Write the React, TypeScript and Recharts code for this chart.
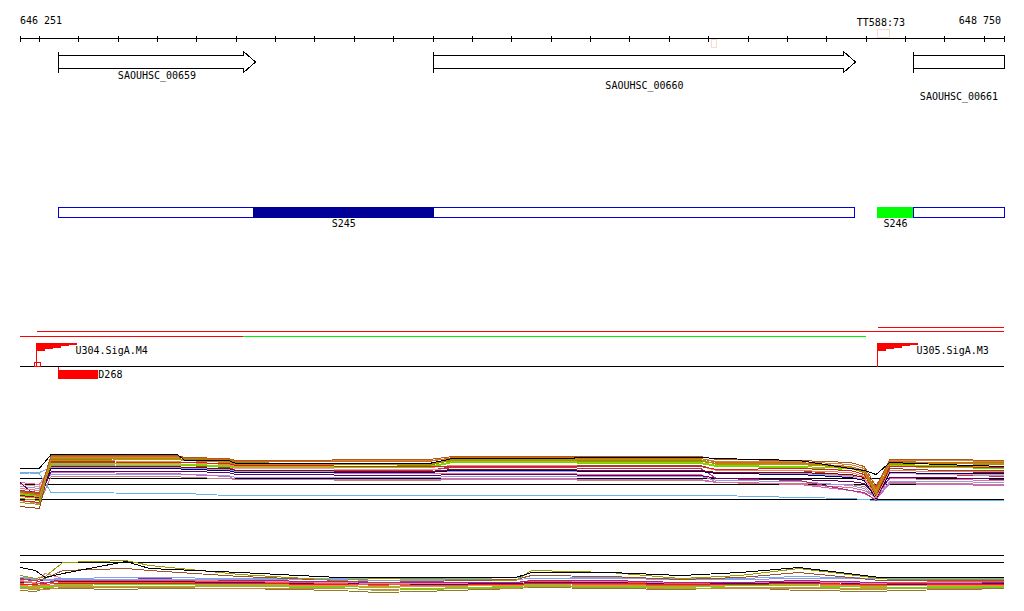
import React from "react";
import { ComposedChart, Line, XAxis, YAxis, ReferenceLine, ReferenceArea, ReferenceDot } from "recharts";

// genome window shown
const VIEW_START = 646251;
const VIEW_END = 648750;

const rulerTicks = [
  646251, 646300, 646400, 646500, 646600, 646700, 646800, 646900, 647000, 647100, 647200, 647300, 647400,
  647500, 647600, 647700, 647800, 647900, 648000, 648100, 648200, 648300, 648400, 648500, 648600, 648700, 648750,
];

const genes = [
  { name: "SAOUHSC_00659", start: 646350, end: 646848 },
  { name: "SAOUHSC_00660", start: 647302, end: 648372 },
  { name: "SAOUHSC_00661", start: 648519, end: 648750 },
];

const segmentSpans = [
  { start: 646350, end: 648372 },
  { start: 648519, end: 648750 },
];

const segments = [
  { name: "S245", start: 646845, end: 647302, color: "#000099" },
  { name: "S246", start: 648430, end: 648519, color: "#00ff00" },
];

const transcripts = [
  { start: 648430, end: 648750, color: "#ff0000", lane: 0 },
  { start: 646294, end: 648750, color: "#ff0000", lane: 1 },
  { start: 646251, end: 646817, color: "#ff0000", lane: 2 },
  { start: 646817, end: 648400, color: "#00ee00", lane: 2 },
];

const promoters = [
  { name: "U304.SigA.M4", pos: 646294 },
  { name: "U305.SigA.M3", pos: 648430 },
];
const tssMarks = [646294];

const deletions = [{ name: "D268", start: 646350, end: 646450 }];

const terminators = [{ name: "TT588:73", start: 648430, end: 648460 }];
const faintMarks = [{ start: 648006, end: 648019 }];

// expression panel 1 (log2 signal)
const p1Pos = [
  646251, 646300, 646330, 646650, 646670, 646780, 646800, 647290, 647350, 647980, 648020, 648230, 648360, 648395,
  648425, 648460, 648590, 648750,
];
const p1Black = [9.4, 9.4, 12.2, 12.2, 11, 11, 10.4, 10.4, 11.4, 11.6, 11.4, 11, 9.4, 9, 8.2, 10.6, 10.2, 9.8];
const p1Sky = [8.6, 8.4, 4.6, 4.4, 4.4, 4, 4, 4, 4, 4, 4, 3.6, 3.4, 3.2, 3, 3, 3, 3];
const p1Brown = [1.8, 1.4, 10.6, 10.4, 10, 9.6, 9, 9, 9.8, 10, 9, 9, 8, 7, 3.8, 9.4, 9, 9];
const p1Orange = [4.6, 4.2, 11.8, 11.8, 11.4, 11.2, 10.8, 10.8, 11.6, 11.4, 10.6, 10.6, 9.8, 9, 5.4, 10.8, 10.6, 10.6];
const p1Olive = [3.4, 3, 11.2, 11.4, 11.2, 11, 10.6, 10, 11.2, 11, 10.4, 10.4, 9.4, 8.6, 4.2, 10.6, 10.4, 10.2];
const p1Magenta = [5, 4.6, 10.6, 10.4, 10.2, 9.8, 9, 9, 9.6, 9.4, 7.4, 7, 5, 4.6, 3, 8.6, 8.2, 7.8];
const p1Green = [4.2, 3.8, 10.2, 10, 10, 9.8, 9.6, 9.6, 10.6, 10.4, 9.8, 9.6, 9, 8.2, 4.6, 9.8, 9.6, 9.4];
const p1Salmon = [5.4, 5, 11, 10.8, 10.6, 10.2, 9.8, 9.6, 10, 9.8, 9, 9, 8.6, 7.8, 3.6, 9, 8.8, 8.8];
const p1Plum = [6.6, 3.4, 8.8, 8.8, 8.8, 8.6, 8.2, 8, 8.2, 8, 7.4, 7.2, 6.8, 6.4, 4, 7.6, 7.6, 7.2];
const p1Lavender = [5.8, 5.4, 8.2, 8.2, 8.2, 8, 7.6, 7.6, 7.8, 7.8, 7, 6.8, 6, 5.4, 3.4, 6.8, 6.8, 6.6];
const p1Pink = [6.6, 6.2, 10, 9.8, 9.6, 9.2, 8.6, 8.4, 8.4, 8.2, 6.6, 6.2, 5.6, 5, 3.6, 7.4, 7.2, 7];
const p1Red = [3, 2.6, 10.8, 10.6, 10.6, 10.4, 10, 9.8, 9.8, 9.8, 9.2, 9.4, 9, 8.2, 4.2, 9.8, 9.8, 9.6];
const p1Peru = [3.8, 3.4, 11.6, 11.6, 11.6, 11.4, 11, 11, 11.4, 11.4, 10.8, 10.8, 10.2, 9.4, 5, 11, 11, 10.8];
const p1Maroon = [4, 3.6, 9.8, 9.8, 9.6, 9.4, 9, 8.8, 9.2, 9, 8.6, 8.6, 8.2, 7.6, 4, 9, 8.8, 8.6];
const p1Gold = [4.6, 4, 11.4, 11.4, 11, 10.6, 10.2, 10.2, 11, 10.8, 10.4, 10.4, 9.8, 9, 4.6, 10.4, 10.4, 10.2];
const p1Orchid = [5, 4.6, 8.6, 8.4, 8.2, 7.8, 7.2, 7.2, 7.4, 7.2, 6.6, 6.2, 5, 4.4, 3.2, 6.4, 6.2, 6];
const p1Navy = [4.2, 3.8, 9.4, 9.4, 9.2, 9, 8.6, 8.6, 9, 8.8, 8.4, 8.2, 7.6, 7, 3.4, 8.6, 8.4, 8.4];
const p1Rose = [6.2, 5.8, 10.4, 10.2, 10, 9.8, 9.4, 9.2, 9, 9, 8.4, 8.2, 7.8, 7.2, 3.8, 8.4, 8.2, 8.2];
const p1Lime = [4.4, 4, 10.4, 10.4, 10.2, 10, 9.6, 9.8, 10.8, 10.6, 10, 9.8, 9.4, 8.6, 4.4, 10, 10, 9.8];
const p1Rust = [4.8, 4.4, 12, 12, 11.6, 11.4, 11, 11.2, 11.8, 11.8, 11.2, 11, 10.6, 9.8, 5.8, 11.2, 11.2, 11];
const p1Rosy = [3, 2.4, 7.8, 7.8, 7.6, 7.4, 7.2, 7, 7.2, 7, 6.6, 6.4, 6.2, 5.8, 3.6, 6.6, 6.4, 6.2];
const p1Steel = [8.4, 8.6, 9.6, 9.6, 9.4, 9.2, 8.8, 8.8, 8.8, 8.8, 8.6, 8.4, 8, 7.6, 4.6, 8.4, 8.2, 8];
const p1Khaki = [2.6, 2.2, 11, 11.2, 11, 10.8, 10.4, 10.4, 11.2, 11.2, 10.2, 10.2, 9.6, 8.8, 4.4, 10.2, 10.4, 10.4];
const p1Refs = [7.4, 6.2, 3.2];

// expression panel 2
const p2Pos = [
  646251, 646290, 646315, 646360, 646520, 646580, 646810, 647060, 647160, 647270, 647510, 647550, 647750, 647930,
  648080, 648230, 648435, 648470, 648640, 648750,
];
const p2Black = [15.2, 14, 11.2, 12.8, 17.6, 14.8, 13.2, 11.2, 11.2, 11.2, 11.2, 13.2, 13.2, 12, 13.2, 15.2, 11.2, 11.2, 11.2, 11.2];
const p2Olive = [12, 10.8, 11.6, 17.2, 18, 16, 12.4, 10, 10.8, 10.8, 10, 14, 13.2, 10.8, 12, 14.8, 10.8, 10.4, 10.4, 10.4];
const p2Sky = [11.2, 10.8, 10, 10.4, 10.4, 10.4, 10.4, 10.8, 10.8, 10.4, 11.2, 10.8, 11.2, 10.8, 10.8, 11.6, 10.8, 10.8, 10.8, 10.8];
const p2Orange = [8.8, 8, 8.4, 9.2, 9.2, 9.2, 8.8, 8.4, 8.4, 8, 8.4, 8.8, 8.4, 8, 8.4, 8.8, 8, 8.4, 8.4, 8.8];
const p2Magenta = [10.8, 10, 8.8, 10.8, 11.2, 10.8, 10, 9.6, 9.2, 9.2, 9.2, 10, 10, 9.2, 9.2, 10, 9.2, 8.8, 8.8, 9.2];
const p2Green = [7.6, 7.2, 7.6, 8, 8.4, 8.4, 8, 7.6, 7.2, 6.8, 7.6, 8, 7.6, 7.2, 8, 8, 7.2, 7.2, 7.6, 7.6];
const p2Umber = [6, 5.6, 6.8, 6.8, 6.4, 6.8, 6.8, 6, 5.2, 5.6, 6.8, 7.2, 6.8, 6.4, 7.2, 6, 5.6, 6, 6.4, 6.8];
const p2Salmon = [9.6, 8.8, 9.2, 10, 10, 10, 9.6, 8.8, 8, 8.8, 9.2, 9.6, 9.6, 8.8, 9.2, 9.6, 9.2, 9.2, 9.6, 9.6];
const p2Brown = [10.4, 10, 10.8, 14, 14.8, 14, 11.6, 10, 9.2, 9.6, 10.4, 12, 11.6, 10.4, 11.2, 13.2, 10, 10, 10, 10];
const p2Pink = [10, 9.2, 12.8, 10.8, 10.4, 10.4, 10, 9.2, 8.8, 8.8, 9.2, 10, 9.6, 9.2, 9.2, 9.6, 8.8, 8.8, 9.2, 9.2];
const p2Lavender = [11.2, 10.4, 10.4, 10.8, 11.2, 11.2, 10.8, 10.4, 10, 10, 10.4, 10.8, 10.8, 10.4, 10.4, 10.8, 10.8, 10.4, 10.8, 10.8];
const p2Coral = [8, 7.6, 8, 8.4, 8.8, 8.8, 8.4, 8, 7.6, 7.6, 8, 8.4, 8, 7.6, 8.4, 8.4, 7.6, 8, 8, 8];
const p2Plum = [9.2, 9.2, 10.4, 9.6, 9.6, 9.6, 9.2, 8.8, 8.8, 8.4, 8.8, 9.2, 9.2, 8.8, 8.8, 9.2, 8.8, 8.4, 8.8, 8.8];
const p2Khaki = [7.2, 6.8, 7.2, 7.6, 7.6, 7.6, 7.6, 7.2, 6, 6.4, 7.2, 7.6, 7.6, 6.8, 7.2, 7.2, 6.8, 6.8, 7.2, 7.2];
const p2Red = [8.4, 8.4, 9.2, 8.8, 8.8, 8.8, 8.8, 8.4, 8.4, 8.4, 8.4, 8.8, 8.8, 8.4, 8.4, 8.8, 8.4, 8.4, 8.4, 8.4];
const p2Tan = [6.8, 6.4, 6.4, 7.2, 7.2, 7.2, 6.8, 6.8, 6.4, 6.8, 6.8, 7.6, 7.2, 6.8, 6.8, 6.8, 6.4, 6.8, 6.8, 7.2];
const p2Refs = [20, 17.2];

const panel1 = [
  { color: "#66b3ec", values: p1Sky },
  { color: "#c08080", values: p1Rosy },
  { color: "#8b4a2b", values: p1Brown },
  { color: "#9999dd", values: p1Lavender },
  { color: "#cc66cc", values: p1Orchid },
  { color: "#e070a0", values: p1Pink },
  { color: "#b03070", values: p1Magenta },
  { color: "#88aadd", values: p1Steel },
  { color: "#e8a0a0", values: p1Rose },
  { color: "#660066", values: p1Plum },
  { color: "#000080", values: p1Navy },
  { color: "#990000", values: p1Maroon },
  { color: "#f08060", values: p1Salmon },
  { color: "#66dd00", values: p1Green },
  { color: "#99cc00", values: p1Lime },
  { color: "#e02020", values: p1Red },
  { color: "#8c8c00", values: p1Olive },
  { color: "#a0a000", values: p1Khaki },
  { color: "#b8860b", values: p1Gold },
  { color: "#cd853f", values: p1Peru },
  { color: "#d2691e", values: p1Orange },
  { color: "#b05a1a", values: p1Rust },
  { color: "#000000", values: p1Black },
];

const panel2 = [
  { color: "#8b7d2b", values: p2Umber },
  { color: "#cd853f", values: p2Tan },
  { color: "#aaaa33", values: p2Khaki },
  { color: "#66dd00", values: p2Green },
  { color: "#ff7f50", values: p2Coral },
  { color: "#d2691e", values: p2Orange },
  { color: "#dd2222", values: p2Red },
  { color: "#660066", values: p2Plum },
  { color: "#ee5544", values: p2Salmon },
  { color: "#e77fb0", values: p2Pink },
  { color: "#aa2288", values: p2Magenta },
  { color: "#9999dd", values: p2Lavender },
  { color: "#77aaee", values: p2Sky },
  { color: "#a0522d", values: p2Brown },
  { color: "#999900", values: p2Olive },
  { color: "#000000", values: p2Black },
];

// layout (pixels)
const W = 1024;
const H = 611;
const FONT = "'DejaVu Sans Mono', 'Liberation Mono', monospace";
const RULER_Y = 38.5;
const GENE_TOP = 55.5;
const GENE_BOTTOM = 68.5;
const GENE_LABEL_Y = [79, 89, 100];
const SEG_TOP = 207.5;
const SEG_BOTTOM = 217.5;
const SEG_LABEL_Y = 227;
const LANE_Y = [327.5, 331.5, 336.5];
const PROM_BASE = 366.5;
const E1 = { base: 515.5, k: 5 };
const E2 = { base: 605.5, k: 2.5 };
const eDomain = (e: { base: number; k: number }) => [(e.base - H) / e.k, e.base / e.k];

const snap = (v: number) => Math.floor(v) + 0.5;
const fmt = (n: number) => String(n).replace(/\B(?=(\d{3})+(?!\d))/g, " ");
const rows = (pos: number[], vals: number[]) => pos.map((p, i) => ({ pos: p, v: vals[i] }));

const txt = { fontFamily: FONT, fontSize: 10, fill: "#000" };

function geneShape(g: { name: string; start: number; end: number }, labelY: number) {
  return (p: any) => {
    const x = snap(p.x);
    const right = snap(p.x + p.width);
    const y = p.y;
    const h = p.height;
    const hx = right - 12;
    const d =
      g.end >= VIEW_END
        ? `M${x},${y} H${right} V${y + h} H${x} Z`
        : `M${x},${y} H${hx} V${y - 4} L${right},${y + h / 2} L${hx},${y + h + 4} V${y + h} H${x} Z`;
    return (
      <g>
        <path d={d} fill="#fff" stroke="#000" />
        <line x1={x} x2={x} y1={y - 4} y2={y + h + 4} stroke="#000" />
        <text x={(x + right) / 2} y={labelY} textAnchor="middle" {...txt}>
          {g.name}
        </text>
      </g>
    );
  };
}

function promoterShape(name: string) {
  return (p: any) => {
    const cx = snap(p.cx);
    const base = p.cy;
    const top = 343;
    const pts: number[][] = [
      [cx, top],
      [cx + 40, top],
    ];
    for (let i = 0; i < 5; i++) {
      const xr = cx + 40 - i * 8;
      const ys = top + ((i + 1) * 8) / 5;
      pts.push([xr, ys], [xr - 8, ys]);
    }
    return (
      <g>
        <line x1={cx} x2={cx} y1={top} y2={base} stroke="#ff0000" />
        <polygon points={pts.map((q) => q.join(",")).join(" ")} fill="#ff0000" />
        <text x={cx + 39} y={354} {...txt}>
          {name}
        </text>
      </g>
    );
  };
}

export default function App() {
  return (
    <div style={{ position: "absolute", left: 0, top: 0, width: W, height: H, background: "#fff", shapeRendering: "crispEdges" }}>
      <ComposedChart width={W} height={H} margin={{ top: 0, right: 20, bottom: 0, left: 20 }}>
        <XAxis dataKey="pos" type="number" domain={[VIEW_START, VIEW_END]} allowDataOverflow hide />
        <YAxis yAxisId="L" type="number" domain={[0, H]} reversed allowDataOverflow hide />
        <YAxis yAxisId="e1" type="number" domain={eDomain(E1)} allowDataOverflow hide />
        <YAxis yAxisId="e2" type="number" domain={eDomain(E2)} allowDataOverflow hide />

        {/* ruler */}
        <ReferenceLine yAxisId="L" y={RULER_Y} stroke="#000" ifOverflow="visible" />
        {rulerTicks.map((t) => (
          <ReferenceLine
            key={"t" + t}
            yAxisId="L"
            segment={[
              { x: t, y: RULER_Y - 3 },
              { x: t, y: RULER_Y + 3 },
            ]}
            stroke="#000"
            ifOverflow="visible"
          />
        ))}
        <ReferenceDot
          yAxisId="L"
          x={VIEW_START}
          y={RULER_Y}
          ifOverflow="visible"
          shape={(p: any) => (
            <text x={p.cx} y={24} {...txt}>
              {fmt(VIEW_START)}
            </text>
          )}
        />
        <ReferenceDot
          yAxisId="L"
          x={VIEW_END}
          y={RULER_Y}
          ifOverflow="visible"
          shape={(p: any) => (
            <text x={p.cx - 3} y={24} textAnchor="end" {...txt}>
              {fmt(VIEW_END)}
            </text>
          )}
        />
        {terminators.map((t) => (
          <ReferenceArea
            key={t.name}
            yAxisId="L"
            x1={t.start}
            x2={t.end}
            y1={29.5}
            y2={RULER_Y - 1}
            ifOverflow="visible"
            shape={(p: any) => (
              <g>
                <rect x={snap(p.x)} y={p.y} width={Math.round(p.width)} height={p.height} fill="none" stroke="#fbdcd0" />
                <text x={p.x + p.width / 2 - 3} y={26} textAnchor="middle" {...txt}>
                  {t.name}
                </text>
              </g>
            )}
          />
        ))}
        {faintMarks.map((m, i) => (
          <ReferenceArea
            key={"f" + i}
            yAxisId="L"
            x1={m.start}
            x2={m.end}
            y1={RULER_Y + 1}
            y2={47.5}
            ifOverflow="visible"
            fill="none"
            stroke="#fbdcd0"
          />
        ))}

        {/* genes */}
        {genes.map((g, i) => (
          <ReferenceArea
            key={g.name}
            yAxisId="L"
            x1={g.start}
            x2={g.end}
            y1={GENE_TOP}
            y2={GENE_BOTTOM}
            ifOverflow="visible"
            shape={geneShape(g, GENE_LABEL_Y[i])}
          />
        ))}

        {/* segments */}
        {segmentSpans.map((s, i) => (
          <ReferenceArea
            key={"sp" + i}
            yAxisId="L"
            x1={s.start}
            x2={s.end}
            y1={SEG_TOP}
            y2={SEG_BOTTOM}
            ifOverflow="visible"
            shape={(p: any) => (
              <rect x={snap(p.x)} y={p.y} width={Math.round(p.width)} height={p.height} fill="#fff" stroke="#0000dd" />
            )}
          />
        ))}
        {segments.map((s) => (
          <ReferenceArea
            key={s.name}
            yAxisId="L"
            x1={s.start}
            x2={s.end}
            y1={SEG_TOP}
            y2={SEG_BOTTOM}
            ifOverflow="visible"
            shape={(p: any) => (
              <g>
                <rect x={snap(p.x)} y={p.y} width={Math.round(p.width)} height={p.height} fill={s.color} stroke={s.color} />
                <text x={p.x + p.width / 2} y={SEG_LABEL_Y} textAnchor="middle" {...txt}>
                  {s.name}
                </text>
              </g>
            )}
          />
        ))}

        {/* transcription units */}
        {transcripts.map((t, i) => (
          <ReferenceLine
            key={"tu" + i}
            yAxisId="L"
            segment={[
              { x: t.start, y: LANE_Y[t.lane] },
              { x: t.end, y: LANE_Y[t.lane] },
            ]}
            stroke={t.color}
            ifOverflow="visible"
          />
        ))}

        {/* promoters / deletions */}
        <ReferenceLine yAxisId="L" y={PROM_BASE} stroke="#000" ifOverflow="visible" />
        {promoters.map((p) => (
          <ReferenceDot key={p.name} yAxisId="L" x={p.pos} y={PROM_BASE} ifOverflow="visible" shape={promoterShape(p.name)} />
        ))}
        {tssMarks.map((m) => (
          <ReferenceDot
            key={"tss" + m}
            yAxisId="L"
            x={m}
            y={PROM_BASE}
            ifOverflow="visible"
            shape={(p: any) => <rect x={snap(p.cx) - 2} y={p.cy - 4} width={6} height={4} fill="none" stroke="#ff0000" />}
          />
        ))}
        {deletions.map((d) => (
          <ReferenceArea
            key={d.name}
            yAxisId="L"
            x1={d.start}
            x2={d.end}
            y1={370}
            y2={379}
            ifOverflow="visible"
            shape={(p: any) => (
              <g>
                <line x1={snap(p.x)} x2={snap(p.x)} y1={PROM_BASE} y2={p.y + p.height} stroke="#ff0000" />
                <rect x={snap(p.x)} y={p.y} width={Math.round(p.width)} height={p.height} fill="#ff0000" />
                <text x={p.x + p.width} y={378} {...txt}>
                  {d.name}
                </text>
              </g>
            )}
          />
        ))}

        {/* expression panel 1 */}
        {p1Refs.map((v) => (
          <ReferenceLine key={"r1" + v} yAxisId="e1" y={v} stroke="#000" ifOverflow="visible" />
        ))}
        {panel1.map((s, i) => (
          <Line
            key={"a" + i}
            yAxisId="e1"
            data={rows(p1Pos, s.values)}
            dataKey="v"
            type="linear"
            stroke={s.color}
            strokeWidth={1}
            dot={false}
            activeDot={false}
            isAnimationActive={false}
          />
        ))}

        {/* expression panel 2 */}
        {p2Refs.map((v) => (
          <ReferenceLine key={"r2" + v} yAxisId="e2" y={v} stroke="#000" ifOverflow="visible" />
        ))}
        {panel2.map((s, i) => (
          <Line
            key={"b" + i}
            yAxisId="e2"
            data={rows(p2Pos, s.values)}
            dataKey="v"
            type="linear"
            stroke={s.color}
            strokeWidth={1}
            dot={false}
            activeDot={false}
            isAnimationActive={false}
          />
        ))}
      </ComposedChart>
    </div>
  );
}
